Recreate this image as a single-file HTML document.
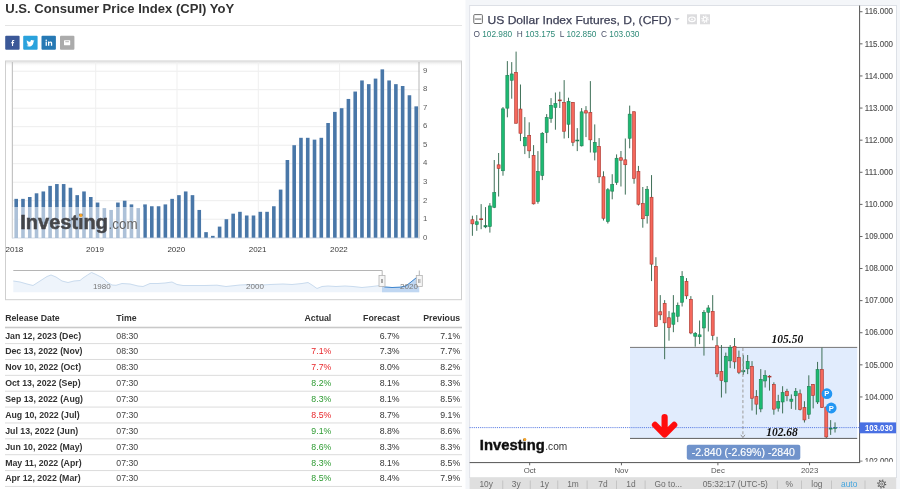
<!DOCTYPE html>
<html><head><meta charset="utf-8"><title>CPI / DXY</title>
<style>
html,body{margin:0;padding:0;background:#fff;}
body{width:900px;height:489px;overflow:hidden;font-family:"Liberation Sans",sans-serif;}
svg{display:block;}
</style></head><body>
<svg width="900" height="489" viewBox="0 0 900 489">
<defs><filter id="soft" filterUnits="userSpaceOnUse" x="-10" y="-10" width="920" height="509"><feGaussianBlur stdDeviation="0.45"/></filter></defs>
<rect width="900" height="489" fill="#fff"/>
<g filter="url(#soft)">
<rect x="-10" y="-10" width="920" height="509" fill="#fff"/>
<g id="left">
<text x="5.3" y="13" font-family="Liberation Sans" font-weight="bold" font-size="12.2" fill="#333" textLength="229" lengthAdjust="spacingAndGlyphs">U.S. Consumer Price Index (CPI) YoY</text>
<rect x="5" y="25" width="457" height="1" fill="#e4e4e4"/>
<rect x="5.2" y="35.8" width="14.4" height="14" rx="1" fill="#3b5998"/>
<rect x="23.2" y="35.8" width="14.4" height="14" rx="1" fill="#2ba2dc"/>
<rect x="41.5" y="35.8" width="14.4" height="14" rx="1" fill="#2779b4"/>
<rect x="60" y="35.8" width="14.4" height="14" rx="1" fill="#ababab"/>
<path transform="translate(12.5 43) scale(.82) translate(-12.5 -43)" d="M13.2 46.6v-3.4h1.1l.2-1.3h-1.3v-.8c0-.4.1-.6.7-.6h.7v-1.2c-.1 0-.5-.1-1-.1-1 0-1.7.6-1.7 1.8v1h-1.1v1.300h1.1v3.4z" fill="#fff"/>
<path d="M34.3 40.6c-.3.1-.6.2-.9.3.3-.2.6-.5.7-.9-.3.2-.7.3-1 .4-.3-.3-.7-.5-1.200-.5-.9 0-1.600.7-1.600 1.600 0 .1 0 .3 0 .4-1.400-.1-2.600-.7-3.400-1.700-.1.2-.2.500-.2.800 0 .6.300 1.100.700 1.400-.3 0-.5-.1-.7-.2 0 .8.600 1.500 1.300 1.600-.1 0-.3.100-.4.100-.1 0-.2 0-.3 0 .2.700.800 1.100 1.500 1.200-.6.400-1.300.700-2 .700-.1 0-.3 0-.4 0 .700.500 1.600.700 2.500.700 3 0 4.600-2.500 4.600-4.600v-.2c.3-.3.600-.6.800-.9z" fill="#fff"/>
<g fill="#fff"><rect x="45.6" y="41.6" width="1.3" height="4.2"/><circle cx="46.25" cy="40.2" r=".8"/><path d="M48 41.6h1.200v.6c.2-.4.700-.7 1.400-.7 1.300 0 1.600.8 1.600 2v2.300h-1.300v-2c0-.5 0-1.100-.7-1.100s-.9.500-.9 1.100v2h-1.300z"/></g>
<rect x="64" y="40.2" width="6.2" height="5" rx=".5" fill="#fff"/><rect x="65.3" y="41.3" width="3.6" height=".9" fill="#ababab"/>
<defs><linearGradient id="sh" x1="0" y1="0" x2="0" y2="1"><stop offset="0" stop-color="#d8d8d8"/><stop offset="1" stop-color="#fff" stop-opacity="0"/></linearGradient></defs>
<rect x="5.5" y="61" width="456" height="238.700" fill="#fff" stroke="#cfcfcf" stroke-width="1"/>
<rect x="6" y="61.500" width="455" height="5" fill="url(#sh)" opacity=".8"/>
<rect x="13" y="218.70" width="407" height="1" fill="#ededed"/>
<rect x="13" y="200.20" width="407" height="1" fill="#ededed"/>
<rect x="13" y="181.70" width="407" height="1" fill="#ededed"/>
<rect x="13" y="163.20" width="407" height="1" fill="#ededed"/>
<rect x="13" y="144.70" width="407" height="1" fill="#ededed"/>
<rect x="13" y="126.20" width="407" height="1" fill="#ededed"/>
<rect x="13" y="107.70" width="407" height="1" fill="#ededed"/>
<rect x="13" y="89.20" width="407" height="1" fill="#ededed"/>
<rect x="13" y="70.70" width="407" height="1" fill="#ededed"/>
<rect x="95.20" y="62" width="1" height="175.70" fill="#efefef"/>
<rect x="176.50" y="62" width="1" height="175.70" fill="#efefef"/>
<rect x="257.80" y="62" width="1" height="175.70" fill="#efefef"/>
<rect x="339.10" y="62" width="1" height="175.70" fill="#efefef"/>
<rect x="11.8" y="62" width="1.2" height="176.20" fill="#c4c4c4"/>
<rect x="418.500" y="62" width="1" height="176.20" fill="#b8b8b8"/>
<rect x="12" y="237.40" width="408" height="1" fill="#c9d3e0"/>
<rect x="14.40" y="198.85" width="3.6" height="38.85" fill="#4a77a8"/>
<rect x="21.18" y="198.85" width="3.6" height="38.85" fill="#4a77a8"/>
<rect x="27.96" y="197.00" width="3.6" height="40.70" fill="#4a77a8"/>
<rect x="34.74" y="193.30" width="3.6" height="44.40" fill="#4a77a8"/>
<rect x="41.52" y="191.45" width="3.6" height="46.25" fill="#4a77a8"/>
<rect x="48.30" y="185.90" width="3.6" height="51.80" fill="#4a77a8"/>
<rect x="55.08" y="184.05" width="3.6" height="53.65" fill="#4a77a8"/>
<rect x="61.86" y="184.05" width="3.6" height="53.65" fill="#4a77a8"/>
<rect x="68.64" y="187.75" width="3.6" height="49.95" fill="#4a77a8"/>
<rect x="75.42" y="195.15" width="3.6" height="42.55" fill="#4a77a8"/>
<rect x="82.20" y="191.45" width="3.6" height="46.25" fill="#4a77a8"/>
<rect x="88.98" y="197.00" width="3.6" height="40.70" fill="#4a77a8"/>
<rect x="95.76" y="202.55" width="3.6" height="35.15" fill="#4a77a8"/>
<rect x="102.54" y="208.10" width="3.6" height="29.60" fill="#4a77a8"/>
<rect x="109.32" y="209.95" width="3.6" height="27.75" fill="#4a77a8"/>
<rect x="116.10" y="202.55" width="3.6" height="35.15" fill="#4a77a8"/>
<rect x="122.88" y="200.70" width="3.6" height="37.00" fill="#4a77a8"/>
<rect x="129.66" y="204.40" width="3.6" height="33.30" fill="#4a77a8"/>
<rect x="136.44" y="208.10" width="3.6" height="29.60" fill="#4a77a8"/>
<rect x="143.22" y="204.40" width="3.6" height="33.30" fill="#4a77a8"/>
<rect x="150.00" y="206.25" width="3.6" height="31.45" fill="#4a77a8"/>
<rect x="156.78" y="206.25" width="3.6" height="31.45" fill="#4a77a8"/>
<rect x="163.56" y="204.40" width="3.6" height="33.30" fill="#4a77a8"/>
<rect x="170.34" y="198.85" width="3.6" height="38.85" fill="#4a77a8"/>
<rect x="177.12" y="195.15" width="3.6" height="42.55" fill="#4a77a8"/>
<rect x="183.90" y="191.45" width="3.6" height="46.25" fill="#4a77a8"/>
<rect x="190.68" y="195.15" width="3.6" height="42.55" fill="#4a77a8"/>
<rect x="197.46" y="209.95" width="3.6" height="27.75" fill="#4a77a8"/>
<rect x="204.24" y="232.15" width="3.6" height="5.55" fill="#4a77a8"/>
<rect x="211.02" y="235.85" width="3.6" height="1.85" fill="#4a77a8"/>
<rect x="217.80" y="226.60" width="3.6" height="11.10" fill="#4a77a8"/>
<rect x="224.58" y="219.20" width="3.6" height="18.50" fill="#4a77a8"/>
<rect x="231.36" y="213.65" width="3.6" height="24.05" fill="#4a77a8"/>
<rect x="238.14" y="211.80" width="3.6" height="25.90" fill="#4a77a8"/>
<rect x="244.92" y="215.50" width="3.6" height="22.20" fill="#4a77a8"/>
<rect x="251.70" y="215.50" width="3.6" height="22.20" fill="#4a77a8"/>
<rect x="258.48" y="211.80" width="3.6" height="25.90" fill="#4a77a8"/>
<rect x="265.26" y="211.80" width="3.6" height="25.90" fill="#4a77a8"/>
<rect x="272.04" y="206.25" width="3.6" height="31.45" fill="#4a77a8"/>
<rect x="278.82" y="189.60" width="3.6" height="48.10" fill="#4a77a8"/>
<rect x="285.60" y="160.00" width="3.6" height="77.70" fill="#4a77a8"/>
<rect x="292.38" y="145.20" width="3.6" height="92.50" fill="#4a77a8"/>
<rect x="299.16" y="137.80" width="3.6" height="99.90" fill="#4a77a8"/>
<rect x="305.94" y="137.80" width="3.6" height="99.90" fill="#4a77a8"/>
<rect x="312.72" y="139.65" width="3.6" height="98.05" fill="#4a77a8"/>
<rect x="319.50" y="137.80" width="3.6" height="99.90" fill="#4a77a8"/>
<rect x="326.28" y="123.00" width="3.6" height="114.70" fill="#4a77a8"/>
<rect x="333.06" y="111.90" width="3.6" height="125.80" fill="#4a77a8"/>
<rect x="339.84" y="108.20" width="3.6" height="129.50" fill="#4a77a8"/>
<rect x="346.62" y="98.95" width="3.6" height="138.75" fill="#4a77a8"/>
<rect x="353.40" y="91.55" width="3.6" height="146.15" fill="#4a77a8"/>
<rect x="360.18" y="80.45" width="3.6" height="157.25" fill="#4a77a8"/>
<rect x="366.96" y="84.15" width="3.6" height="153.55" fill="#4a77a8"/>
<rect x="373.74" y="78.60" width="3.6" height="159.10" fill="#4a77a8"/>
<rect x="380.52" y="69.35" width="3.6" height="168.35" fill="#4a77a8"/>
<rect x="387.30" y="80.45" width="3.6" height="157.25" fill="#4a77a8"/>
<rect x="394.08" y="84.15" width="3.6" height="153.55" fill="#4a77a8"/>
<rect x="400.86" y="86.00" width="3.6" height="151.70" fill="#4a77a8"/>
<rect x="407.64" y="95.25" width="3.6" height="142.45" fill="#4a77a8"/>
<rect x="414.42" y="106.35" width="3.6" height="131.35" fill="#4a77a8"/>
<rect x="12.5" y="207" width="131" height="30.70" fill="#fff" opacity=".55"/>
<text x="20.3" y="229.2" font-family="Liberation Sans" font-weight="bold" font-size="19.6" fill="#3a3a3d" opacity=".92" textLength="87.7" lengthAdjust="spacingAndGlyphs" stroke="#3a3a3d" stroke-width=".5">Investing</text>
<text x="108.6" y="229.2" font-family="Liberation Sans" font-size="14" fill="#666" textLength="29" lengthAdjust="spacingAndGlyphs">.com</text>
<circle cx="80.8" cy="215.4" r="1.6" fill="#f7a428"/>
<text x="422.9" y="239.80" font-family="Liberation Sans" font-size="7.8" fill="#5a5a5a">0</text>
<text x="422.9" y="221.22" font-family="Liberation Sans" font-size="7.8" fill="#5a5a5a">1</text>
<text x="422.9" y="202.64" font-family="Liberation Sans" font-size="7.8" fill="#5a5a5a">2</text>
<text x="422.9" y="184.06" font-family="Liberation Sans" font-size="7.8" fill="#5a5a5a">3</text>
<text x="422.9" y="165.48" font-family="Liberation Sans" font-size="7.8" fill="#5a5a5a">4</text>
<text x="422.9" y="146.90" font-family="Liberation Sans" font-size="7.8" fill="#5a5a5a">5</text>
<text x="422.9" y="128.32" font-family="Liberation Sans" font-size="7.8" fill="#5a5a5a">6</text>
<text x="422.9" y="109.74" font-family="Liberation Sans" font-size="7.8" fill="#5a5a5a">7</text>
<text x="422.9" y="91.16" font-family="Liberation Sans" font-size="7.8" fill="#5a5a5a">8</text>
<text x="422.9" y="72.58" font-family="Liberation Sans" font-size="7.8" fill="#5a5a5a">9</text>
<text x="5.5" y="251.800" font-family="Liberation Sans" font-size="8" fill="#383838">2018</text>
<text x="95.00" y="251.800" text-anchor="middle" font-family="Liberation Sans" font-size="8" fill="#383838">2019</text>
<text x="176.30" y="251.800" text-anchor="middle" font-family="Liberation Sans" font-size="8" fill="#383838">2020</text>
<text x="257.60" y="251.800" text-anchor="middle" font-family="Liberation Sans" font-size="8" fill="#383838">2021</text>
<text x="338.90" y="251.800" text-anchor="middle" font-family="Liberation Sans" font-size="8" fill="#383838">2022</text>
<path d="M13.3 281 L20 282 L27 284 L33 285.5 L40 281 L47 276.5 L51 275 L56 277 L62 281 L68 282.5 L74 281 L80 280.5 L83 278 L87.5 275 L91.5 272.5 L95 274 L99 276 L103 278 L107 282 L112 285 L116 285.3 L122 283.5 L130 284 L138 286 L143 286.5 L150 283.5 L158 283.5 L165 283 L172 282 L177 284.5 L183 285.5 L192 285.5 L205 285.5 L217 285.2 L226 286.5 L240 285 L250 284.5 L262 285 L270 284.5 L283 284 L292 284.5 L302 283.5 L308 282.5 L312 285 L317 288.5 L322 286.5 L328 286 L336 286.5 L345 286 L353 286.5 L362 287.5 L372 286.5 L380 285.5 L385 287 L392 287.5 L400 287.2 L406 286 L411 282 L416 278 L419 276 L419 292.300 L13.3 292.300 Z" fill="#eef4fb"/>
<path d="M13.3 281 L20 282 L27 284 L33 285.5 L40 281 L47 276.5 L51 275 L56 277 L62 281 L68 282.5 L74 281 L80 280.5 L83 278 L87.5 275 L91.5 272.5 L95 274 L99 276 L103 278 L107 282 L112 285 L116 285.3 L122 283.5 L130 284 L138 286 L143 286.5 L150 283.5 L158 283.5 L165 283 L172 282 L177 284.5 L183 285.5 L192 285.5 L205 285.5 L217 285.2 L226 286.5 L240 285 L250 284.5 L262 285 L270 284.5 L283 284 L292 284.5 L302 283.5 L308 282.5 L312 285 L317 288.5 L322 286.5 L328 286 L336 286.5 L345 286 L353 286.5 L362 287.5 L372 286.5 L380 285.5 L385 287 L392 287.5 L400 287.2 L406 286 L411 282 L416 278 L419 276" fill="none" stroke="#c9dbee" stroke-width="1"/>
<path d="M382 292.300 L382 286 L385 287 L392 287.5 L400 287.2 L406 286 L411 282 L416 278 L419 276 L419.300 292.300 Z" fill="#c0d7f2"/>
<path d="M382 286 L385 287 L392 287.5 L400 287.2 L406 286 L411 282 L416 278 L419 276" fill="none" stroke="#3f86cf" stroke-width="1"/>
<path d="M13.3 270.500 H382.200 V286 " fill="none" stroke="#b5b5b5" stroke-width="1"/>
<path d="M419.300 270.500 V286" fill="none" stroke="#b5b5b5" stroke-width="1"/>
<rect x="379" y="275.500" width="6" height="11" fill="#f6f6f6" stroke="#b4b4b4" stroke-width=".8"/>
<rect x="381.1" y="279" width=".7" height="4" fill="#888"/><rect x="382.3" y="279" width=".7" height="4" fill="#888"/>
<rect x="416.3" y="275.500" width="6" height="11" fill="#f6f6f6" stroke="#b4b4b4" stroke-width=".8"/>
<rect x="418.40000000000003" y="279" width=".7" height="4" fill="#888"/><rect x="419.6" y="279" width=".7" height="4" fill="#888"/>
<text x="101.8" y="289.300" text-anchor="middle" font-family="Liberation Sans" font-size="8" fill="#777">1980</text>
<text x="255" y="289.300" text-anchor="middle" font-family="Liberation Sans" font-size="8" fill="#777">2000</text>
<text x="409" y="289.300" text-anchor="middle" font-family="Liberation Sans" font-size="8" fill="#777">2020</text>
<g font-family="Liberation Sans" font-size="8.75" fill="#333">
<text x="5.2" y="320.5" font-weight="bold">Release Date</text>
<text x="116.300" y="320.5" font-weight="bold">Time</text>
<text x="331.300" y="320.5" font-weight="bold" text-anchor="end">Actual</text>
<text x="399.600" y="320.5" font-weight="bold" text-anchor="end">Forecast</text>
<text x="460.200" y="320.5" font-weight="bold" text-anchor="end">Previous</text>
<rect x="5" y="326.700" width="457" height="1.600" fill="#c9c9c9"/>
<text x="5.2" y="338.60" font-weight="bold">Jan 12, 2023 (Dec)</text>
<text x="116.300" y="338.60" fill="#444">08:30</text>
<text x="399.600" y="338.60" text-anchor="end">6.7%</text>
<text x="460.200" y="338.60" text-anchor="end">7.1%</text>
<rect x="5" y="343.10" width="457" height="1" fill="#dcdcdc"/>
<text x="5.2" y="354.47" font-weight="bold">Dec 13, 2022 (Nov)</text>
<text x="116.300" y="354.47" fill="#444">08:30</text>
<text x="331.300" y="354.47" text-anchor="end" fill="#e8262a">7.1%</text>
<text x="399.600" y="354.47" text-anchor="end">7.3%</text>
<text x="460.200" y="354.47" text-anchor="end">7.7%</text>
<rect x="5" y="358.97" width="457" height="1" fill="#dcdcdc"/>
<text x="5.2" y="370.34" font-weight="bold">Nov 10, 2022 (Oct)</text>
<text x="116.300" y="370.34" fill="#444">08:30</text>
<text x="331.300" y="370.34" text-anchor="end" fill="#e8262a">7.7%</text>
<text x="399.600" y="370.34" text-anchor="end">8.0%</text>
<text x="460.200" y="370.34" text-anchor="end">8.2%</text>
<rect x="5" y="374.84" width="457" height="1" fill="#dcdcdc"/>
<text x="5.2" y="386.21" font-weight="bold">Oct 13, 2022 (Sep)</text>
<text x="116.300" y="386.21" fill="#444">07:30</text>
<text x="331.300" y="386.21" text-anchor="end" fill="#2e9b32">8.2%</text>
<text x="399.600" y="386.21" text-anchor="end">8.1%</text>
<text x="460.200" y="386.21" text-anchor="end">8.3%</text>
<rect x="5" y="390.71" width="457" height="1" fill="#dcdcdc"/>
<text x="5.2" y="402.08" font-weight="bold">Sep 13, 2022 (Aug)</text>
<text x="116.300" y="402.08" fill="#444">07:30</text>
<text x="331.300" y="402.08" text-anchor="end" fill="#2e9b32">8.3%</text>
<text x="399.600" y="402.08" text-anchor="end">8.1%</text>
<text x="460.200" y="402.08" text-anchor="end">8.5%</text>
<rect x="5" y="406.58" width="457" height="1" fill="#dcdcdc"/>
<text x="5.2" y="417.95" font-weight="bold">Aug 10, 2022 (Jul)</text>
<text x="116.300" y="417.95" fill="#444">07:30</text>
<text x="331.300" y="417.95" text-anchor="end" fill="#e8262a">8.5%</text>
<text x="399.600" y="417.95" text-anchor="end">8.7%</text>
<text x="460.200" y="417.95" text-anchor="end">9.1%</text>
<rect x="5" y="422.45" width="457" height="1" fill="#dcdcdc"/>
<text x="5.2" y="433.82" font-weight="bold">Jul 13, 2022 (Jun)</text>
<text x="116.300" y="433.82" fill="#444">07:30</text>
<text x="331.300" y="433.82" text-anchor="end" fill="#2e9b32">9.1%</text>
<text x="399.600" y="433.82" text-anchor="end">8.8%</text>
<text x="460.200" y="433.82" text-anchor="end">8.6%</text>
<rect x="5" y="438.32" width="457" height="1" fill="#dcdcdc"/>
<text x="5.2" y="449.69" font-weight="bold">Jun 10, 2022 (May)</text>
<text x="116.300" y="449.69" fill="#444">07:30</text>
<text x="331.300" y="449.69" text-anchor="end" fill="#2e9b32">8.6%</text>
<text x="399.600" y="449.69" text-anchor="end">8.3%</text>
<text x="460.200" y="449.69" text-anchor="end">8.3%</text>
<rect x="5" y="454.19" width="457" height="1" fill="#dcdcdc"/>
<text x="5.2" y="465.56" font-weight="bold">May 11, 2022 (Apr)</text>
<text x="116.300" y="465.56" fill="#444">07:30</text>
<text x="331.300" y="465.56" text-anchor="end" fill="#2e9b32">8.3%</text>
<text x="399.600" y="465.56" text-anchor="end">8.1%</text>
<text x="460.200" y="465.56" text-anchor="end">8.5%</text>
<rect x="5" y="470.06" width="457" height="1" fill="#dcdcdc"/>
<text x="5.2" y="481.43" font-weight="bold">Apr 12, 2022 (Mar)</text>
<text x="116.300" y="481.43" fill="#444">07:30</text>
<text x="331.300" y="481.43" text-anchor="end" fill="#2e9b32">8.5%</text>
<text x="399.600" y="481.43" text-anchor="end">8.4%</text>
<text x="460.200" y="481.43" text-anchor="end">7.9%</text>
<rect x="5" y="485.93" width="457" height="1" fill="#dcdcdc"/>
</g>
</g>
<g id="right">
<rect x="465.500" y="0" width="434.500" height="489" fill="#f4f6f9"/>
<rect x="469.600" y="5.500" width="426.600" height="472" fill="#fff"/>
<rect x="469.100" y="5" width="427.500" height="1" fill="#dde0e6"/>
<rect x="469.100" y="5" width="1" height="473" fill="#e0e3e9"/>
<rect x="896" y="5" width="1" height="473" fill="#dde1e7"/>
<rect x="630" y="347.400" width="227.200" height="91" fill="#e1ecfd"/>
<rect x="630" y="346.900" width="227.200" height="1" fill="#777"/>
<rect x="630" y="437.900" width="227.200" height="1.100" fill="#6e6e6e"/>
<rect x="471.90" y="215.70" width="1" height="20.10" fill="#3f7058"/>
<rect x="470.90" y="219.75" width="3.0" height="4.10" fill="#f5675b" stroke="#a8342e" stroke-width=".6"/>
<rect x="476.27" y="215.10" width="1" height="15.70" fill="#3f7058"/>
<rect x="475.27" y="221.75" width="3.0" height="2.70" fill="#1fba72" stroke="#1c7f52" stroke-width=".6"/>
<rect x="480.64" y="204.10" width="1" height="25.10" fill="#3f7058"/>
<rect x="479.24" y="218.45" width="3.8" height="1.50" fill="#a8342e"/>
<rect x="485.01" y="207.10" width="1" height="21.10" fill="#3f7058"/>
<rect x="483.61" y="225.20" width="3.8" height="2.00" fill="#1c7f52"/>
<rect x="489.38" y="203.10" width="1" height="29.50" fill="#3f7058"/>
<rect x="488.38" y="205.95" width="3.0" height="20.60" fill="#1fba72" stroke="#1c7f52" stroke-width=".6"/>
<rect x="493.75" y="160.00" width="1" height="48.10" fill="#3f7058"/>
<rect x="492.75" y="192.65" width="3.0" height="14.60" fill="#1fba72" stroke="#1c7f52" stroke-width=".6"/>
<rect x="498.11" y="153.00" width="1" height="43.50" fill="#3f7058"/>
<rect x="497.11" y="164.85" width="3.0" height="3.50" fill="#f5675b" stroke="#a8342e" stroke-width=".6"/>
<rect x="502.48" y="107.00" width="1" height="68.70" fill="#3f7058"/>
<rect x="501.48" y="108.85" width="3.0" height="61.90" fill="#1fba72" stroke="#1c7f52" stroke-width=".6"/>
<rect x="506.85" y="61.10" width="1" height="56.20" fill="#3f7058"/>
<rect x="505.85" y="75.35" width="3.0" height="32.80" fill="#1fba72" stroke="#1c7f52" stroke-width=".6"/>
<rect x="511.22" y="62.10" width="1" height="36.60" fill="#3f7058"/>
<rect x="510.22" y="73.95" width="3.0" height="6.30" fill="#1fba72" stroke="#1c7f52" stroke-width=".6"/>
<rect x="515.59" y="51.60" width="1" height="71.90" fill="#3f7058"/>
<rect x="514.59" y="72.35" width="3.0" height="50.90" fill="#f5675b" stroke="#a8342e" stroke-width=".6"/>
<rect x="519.96" y="84.50" width="1" height="56.60" fill="#3f7058"/>
<rect x="518.96" y="109.05" width="3.0" height="24.20" fill="#f5675b" stroke="#a8342e" stroke-width=".6"/>
<rect x="524.33" y="117.10" width="1" height="37.00" fill="#3f7058"/>
<rect x="523.33" y="137.35" width="3.0" height="8.50" fill="#1fba72" stroke="#1c7f52" stroke-width=".6"/>
<rect x="528.70" y="122.30" width="1" height="35.80" fill="#3f7058"/>
<rect x="527.70" y="135.35" width="3.0" height="15.50" fill="#f5675b" stroke="#a8342e" stroke-width=".6"/>
<rect x="533.07" y="145.10" width="1" height="59.40" fill="#3f7058"/>
<rect x="532.07" y="155.45" width="3.0" height="48.40" fill="#f5675b" stroke="#a8342e" stroke-width=".6"/>
<rect x="537.43" y="151.10" width="1" height="52.60" fill="#3f7058"/>
<rect x="536.43" y="171.45" width="3.0" height="30.00" fill="#1fba72" stroke="#1c7f52" stroke-width=".6"/>
<rect x="541.80" y="132.10" width="1" height="48.00" fill="#3f7058"/>
<rect x="540.80" y="133.35" width="3.0" height="42.10" fill="#1fba72" stroke="#1c7f52" stroke-width=".6"/>
<rect x="546.17" y="114.10" width="1" height="29.00" fill="#3f7058"/>
<rect x="545.17" y="117.55" width="3.0" height="14.90" fill="#1fba72" stroke="#1c7f52" stroke-width=".6"/>
<rect x="550.54" y="98.10" width="1" height="24.70" fill="#3f7058"/>
<rect x="549.54" y="105.35" width="3.0" height="13.30" fill="#1fba72" stroke="#1c7f52" stroke-width=".6"/>
<rect x="554.91" y="92.50" width="1" height="37.20" fill="#3f7058"/>
<rect x="553.91" y="103.55" width="3.0" height="3.80" fill="#1fba72" stroke="#1c7f52" stroke-width=".6"/>
<rect x="559.28" y="91.70" width="1" height="16.30" fill="#3f7058"/>
<rect x="557.88" y="99.60" width="3.8" height="1.50" fill="#a8342e"/>
<rect x="563.65" y="80.10" width="1" height="58.40" fill="#3f7058"/>
<rect x="562.65" y="102.35" width="3.0" height="28.90" fill="#f5675b" stroke="#a8342e" stroke-width=".6"/>
<rect x="568.02" y="97.70" width="1" height="40.40" fill="#3f7058"/>
<rect x="567.02" y="101.35" width="3.0" height="22.90" fill="#1fba72" stroke="#1c7f52" stroke-width=".6"/>
<rect x="572.39" y="102.00" width="1" height="44.10" fill="#3f7058"/>
<rect x="571.39" y="102.35" width="3.0" height="39.90" fill="#f5675b" stroke="#a8342e" stroke-width=".6"/>
<rect x="576.76" y="128.10" width="1" height="23.00" fill="#3f7058"/>
<rect x="575.36" y="139.75" width="3.8" height="1.50" fill="#1c7f52"/>
<rect x="581.12" y="108.10" width="1" height="38.40" fill="#3f7058"/>
<rect x="580.12" y="111.85" width="3.0" height="34.00" fill="#1fba72" stroke="#1c7f52" stroke-width=".6"/>
<rect x="585.49" y="106.10" width="1" height="31.00" fill="#3f7058"/>
<rect x="584.49" y="110.75" width="3.0" height="2.30" fill="#f5675b" stroke="#a8342e" stroke-width=".6"/>
<rect x="589.86" y="81.10" width="1" height="71.40" fill="#3f7058"/>
<rect x="588.86" y="112.35" width="3.0" height="27.50" fill="#f5675b" stroke="#a8342e" stroke-width=".6"/>
<rect x="594.23" y="124.40" width="1" height="36.00" fill="#3f7058"/>
<rect x="593.23" y="142.35" width="3.0" height="9.80" fill="#1fba72" stroke="#1c7f52" stroke-width=".6"/>
<rect x="598.60" y="138.10" width="1" height="45.00" fill="#3f7058"/>
<rect x="597.60" y="146.35" width="3.0" height="30.50" fill="#f5675b" stroke="#a8342e" stroke-width=".6"/>
<rect x="602.97" y="171.30" width="1" height="49.20" fill="#3f7058"/>
<rect x="601.97" y="176.75" width="3.0" height="41.50" fill="#f5675b" stroke="#a8342e" stroke-width=".6"/>
<rect x="607.34" y="188.10" width="1" height="35.40" fill="#3f7058"/>
<rect x="606.34" y="189.75" width="3.0" height="31.70" fill="#1fba72" stroke="#1c7f52" stroke-width=".6"/>
<rect x="611.71" y="174.20" width="1" height="25.10" fill="#3f7058"/>
<rect x="610.71" y="184.55" width="3.0" height="6.60" fill="#1fba72" stroke="#1c7f52" stroke-width=".6"/>
<rect x="616.08" y="154.40" width="1" height="30.50" fill="#3f7058"/>
<rect x="615.08" y="158.25" width="3.0" height="24.10" fill="#1fba72" stroke="#1c7f52" stroke-width=".6"/>
<rect x="620.45" y="151.00" width="1" height="35.50" fill="#3f7058"/>
<rect x="619.45" y="157.75" width="3.0" height="2.50" fill="#f5675b" stroke="#a8342e" stroke-width=".6"/>
<rect x="624.81" y="138.50" width="1" height="56.10" fill="#3f7058"/>
<rect x="623.81" y="159.85" width="3.0" height="4.90" fill="#f5675b" stroke="#a8342e" stroke-width=".6"/>
<rect x="629.18" y="105.60" width="1" height="42.70" fill="#3f7058"/>
<rect x="628.18" y="114.15" width="3.0" height="24.10" fill="#1fba72" stroke="#1c7f52" stroke-width=".6"/>
<rect x="633.55" y="111.40" width="1" height="72.30" fill="#3f7058"/>
<rect x="632.55" y="111.75" width="3.0" height="66.60" fill="#f5675b" stroke="#a8342e" stroke-width=".6"/>
<rect x="637.92" y="165.90" width="1" height="39.60" fill="#3f7058"/>
<rect x="636.92" y="171.45" width="3.0" height="32.80" fill="#f5675b" stroke="#a8342e" stroke-width=".6"/>
<rect x="642.29" y="187.00" width="1" height="40.70" fill="#3f7058"/>
<rect x="641.29" y="203.55" width="3.0" height="15.20" fill="#f5675b" stroke="#a8342e" stroke-width=".6"/>
<rect x="646.66" y="186.00" width="1" height="37.60" fill="#3f7058"/>
<rect x="645.66" y="189.25" width="3.0" height="26.50" fill="#1fba72" stroke="#1c7f52" stroke-width=".6"/>
<rect x="651.03" y="175.10" width="1" height="106.00" fill="#3f7058"/>
<rect x="650.03" y="197.25" width="3.0" height="66.90" fill="#f5675b" stroke="#a8342e" stroke-width=".6"/>
<rect x="655.40" y="257.20" width="1" height="69.80" fill="#3f7058"/>
<rect x="654.40" y="266.35" width="3.0" height="60.00" fill="#f5675b" stroke="#a8342e" stroke-width=".6"/>
<rect x="659.77" y="295.10" width="1" height="25.00" fill="#3f7058"/>
<rect x="658.77" y="311.75" width="3.0" height="3.10" fill="#f5675b" stroke="#a8342e" stroke-width=".6"/>
<rect x="664.14" y="300.10" width="1" height="59.10" fill="#3f7058"/>
<rect x="663.14" y="303.35" width="3.0" height="19.50" fill="#f5675b" stroke="#a8342e" stroke-width=".6"/>
<rect x="668.50" y="311.10" width="1" height="29.60" fill="#3f7058"/>
<rect x="667.50" y="317.75" width="3.0" height="9.80" fill="#f5675b" stroke="#a8342e" stroke-width=".6"/>
<rect x="672.87" y="295.10" width="1" height="37.10" fill="#3f7058"/>
<rect x="671.87" y="312.95" width="3.0" height="11.30" fill="#1fba72" stroke="#1c7f52" stroke-width=".6"/>
<rect x="677.24" y="302.50" width="1" height="19.60" fill="#3f7058"/>
<rect x="676.24" y="305.35" width="3.0" height="10.90" fill="#1fba72" stroke="#1c7f52" stroke-width=".6"/>
<rect x="681.61" y="271.10" width="1" height="35.40" fill="#3f7058"/>
<rect x="680.61" y="276.35" width="3.0" height="25.90" fill="#1fba72" stroke="#1c7f52" stroke-width=".6"/>
<rect x="685.98" y="278.10" width="1" height="21.00" fill="#3f7058"/>
<rect x="684.98" y="281.35" width="3.0" height="14.50" fill="#f5675b" stroke="#a8342e" stroke-width=".6"/>
<rect x="690.35" y="296.10" width="1" height="38.10" fill="#3f7058"/>
<rect x="689.35" y="299.35" width="3.0" height="33.60" fill="#f5675b" stroke="#a8342e" stroke-width=".6"/>
<rect x="694.72" y="332.00" width="1" height="14.70" fill="#3f7058"/>
<rect x="693.72" y="333.45" width="3.0" height="2.80" fill="#1fba72" stroke="#1c7f52" stroke-width=".6"/>
<rect x="699.09" y="320.50" width="1" height="23.60" fill="#3f7058"/>
<rect x="698.09" y="334.85" width="3.0" height="1.90" fill="#1fba72" stroke="#1c7f52" stroke-width=".6"/>
<rect x="703.46" y="310.10" width="1" height="45.50" fill="#3f7058"/>
<rect x="702.46" y="312.35" width="3.0" height="15.60" fill="#1fba72" stroke="#1c7f52" stroke-width=".6"/>
<rect x="707.83" y="305.10" width="1" height="26.40" fill="#3f7058"/>
<rect x="706.83" y="307.95" width="3.0" height="4.30" fill="#1fba72" stroke="#1c7f52" stroke-width=".6"/>
<rect x="712.19" y="295.10" width="1" height="45.20" fill="#3f7058"/>
<rect x="711.19" y="311.35" width="3.0" height="24.00" fill="#f5675b" stroke="#a8342e" stroke-width=".6"/>
<rect x="716.56" y="336.80" width="1" height="40.30" fill="#3f7058"/>
<rect x="715.56" y="345.75" width="3.0" height="28.10" fill="#f5675b" stroke="#a8342e" stroke-width=".6"/>
<rect x="720.93" y="345.00" width="1" height="52.50" fill="#3f7058"/>
<rect x="719.93" y="371.35" width="3.0" height="9.10" fill="#f5675b" stroke="#a8342e" stroke-width=".6"/>
<rect x="725.30" y="352.60" width="1" height="40.90" fill="#3f7058"/>
<rect x="724.30" y="356.25" width="3.0" height="25.60" fill="#1fba72" stroke="#1c7f52" stroke-width=".6"/>
<rect x="729.67" y="345.00" width="1" height="23.10" fill="#3f7058"/>
<rect x="728.67" y="347.25" width="3.0" height="13.60" fill="#1fba72" stroke="#1c7f52" stroke-width=".6"/>
<rect x="734.04" y="338.00" width="1" height="30.70" fill="#3f7058"/>
<rect x="733.04" y="346.35" width="3.0" height="15.50" fill="#f5675b" stroke="#a8342e" stroke-width=".6"/>
<rect x="738.41" y="350.60" width="1" height="23.50" fill="#3f7058"/>
<rect x="737.41" y="357.65" width="3.0" height="14.60" fill="#f5675b" stroke="#a8342e" stroke-width=".6"/>
<rect x="742.78" y="355.00" width="1" height="20.00" fill="#3f7058"/>
<rect x="741.38" y="370.10" width="3.8" height="2.00" fill="#1c7f52"/>
<rect x="747.15" y="355.00" width="1" height="19.10" fill="#3f7058"/>
<rect x="746.15" y="361.35" width="3.0" height="7.50" fill="#1fba72" stroke="#1c7f52" stroke-width=".6"/>
<rect x="751.52" y="361.10" width="1" height="49.40" fill="#3f7058"/>
<rect x="750.52" y="366.35" width="3.0" height="31.90" fill="#f5675b" stroke="#a8342e" stroke-width=".6"/>
<rect x="755.88" y="390.10" width="1" height="24.50" fill="#3f7058"/>
<rect x="754.88" y="396.65" width="3.0" height="7.50" fill="#f5675b" stroke="#a8342e" stroke-width=".6"/>
<rect x="760.25" y="369.10" width="1" height="43.10" fill="#3f7058"/>
<rect x="759.25" y="379.35" width="3.0" height="29.60" fill="#1fba72" stroke="#1c7f52" stroke-width=".6"/>
<rect x="764.62" y="370.20" width="1" height="17.30" fill="#3f7058"/>
<rect x="763.62" y="375.55" width="3.0" height="5.40" fill="#1fba72" stroke="#1c7f52" stroke-width=".6"/>
<rect x="768.99" y="375.10" width="1" height="15.50" fill="#3f7058"/>
<rect x="767.59" y="375.90" width="3.8" height="1.50" fill="#a8342e"/>
<rect x="773.36" y="382.30" width="1" height="32.40" fill="#3f7058"/>
<rect x="772.36" y="384.45" width="3.0" height="24.70" fill="#f5675b" stroke="#a8342e" stroke-width=".6"/>
<rect x="777.73" y="394.80" width="1" height="16.80" fill="#3f7058"/>
<rect x="776.73" y="401.45" width="3.0" height="6.70" fill="#1fba72" stroke="#1c7f52" stroke-width=".6"/>
<rect x="782.10" y="386.20" width="1" height="27.20" fill="#3f7058"/>
<rect x="781.10" y="392.65" width="3.0" height="9.30" fill="#1fba72" stroke="#1c7f52" stroke-width=".6"/>
<rect x="786.47" y="388.80" width="1" height="12.40" fill="#3f7058"/>
<rect x="785.47" y="391.25" width="3.0" height="4.50" fill="#f5675b" stroke="#a8342e" stroke-width=".6"/>
<rect x="790.84" y="394.40" width="1" height="14.50" fill="#3f7058"/>
<rect x="789.84" y="399.15" width="3.0" height="2.10" fill="#1fba72" stroke="#1c7f52" stroke-width=".6"/>
<rect x="795.21" y="388.00" width="1" height="21.80" fill="#3f7058"/>
<rect x="794.21" y="391.25" width="3.0" height="4.50" fill="#1fba72" stroke="#1c7f52" stroke-width=".6"/>
<rect x="799.57" y="389.50" width="1" height="21.00" fill="#3f7058"/>
<rect x="798.57" y="393.75" width="3.0" height="15.80" fill="#f5675b" stroke="#a8342e" stroke-width=".6"/>
<rect x="803.94" y="401.20" width="1" height="21.30" fill="#3f7058"/>
<rect x="802.94" y="407.55" width="3.0" height="12.40" fill="#f5675b" stroke="#a8342e" stroke-width=".6"/>
<rect x="808.31" y="375.30" width="1" height="43.70" fill="#3f7058"/>
<rect x="807.31" y="386.45" width="3.0" height="27.80" fill="#1fba72" stroke="#1c7f52" stroke-width=".6"/>
<rect x="812.68" y="384.00" width="1" height="24.40" fill="#3f7058"/>
<rect x="811.68" y="384.45" width="3.0" height="11.00" fill="#f5675b" stroke="#a8342e" stroke-width=".6"/>
<rect x="817.05" y="361.90" width="1" height="42.10" fill="#3f7058"/>
<rect x="816.05" y="369.65" width="3.0" height="32.30" fill="#1fba72" stroke="#1c7f52" stroke-width=".6"/>
<rect x="821.42" y="347.60" width="1" height="60.40" fill="#3f7058"/>
<rect x="820.42" y="369.65" width="3.0" height="37.80" fill="#f5675b" stroke="#a8342e" stroke-width=".6"/>
<rect x="825.79" y="406.00" width="1" height="32.00" fill="#3f7058"/>
<rect x="824.79" y="407.15" width="3.0" height="29.80" fill="#f5675b" stroke="#a8342e" stroke-width=".6"/>
<rect x="830.16" y="420.10" width="1" height="14.80" fill="#3f7058"/>
<rect x="828.76" y="427.95" width="3.8" height="1.50" fill="#1c7f52"/>
<rect x="834.53" y="422.40" width="1" height="10.10" fill="#3f7058"/>
<rect x="833.13" y="427.10" width="3.8" height="1.60" fill="#1c7f52"/>
<path d="M742.900 348 V437" stroke="#a6a6a6" stroke-width="1.150" stroke-dasharray="3 2.200" fill="none"/>
<path d="M740.800 434.800 L742.900 437.600 L745 434.800" stroke="#8a8a8a" stroke-width=".9" fill="none"/>
<path d="M469.600 427.600 H859" stroke="#4a6ee0" stroke-width=".9" stroke-dasharray="1.100 1" fill="none"/>
<circle cx="826.9" cy="393.7" r="5.4" fill="#2196f3"/>
<text x="826.9" y="396.4" text-anchor="middle" font-family="Liberation Sans" font-weight="bold" font-size="7.6" fill="#fff">P</text>
<circle cx="831.2" cy="408.0" r="5.4" fill="#2196f3"/>
<text x="831.2" y="410.7" text-anchor="middle" font-family="Liberation Sans" font-weight="bold" font-size="7.6" fill="#fff">P</text>
<path d="M664.600 417 V434.300 M655 424.900 L664.600 434.500 L674.200 424.900" stroke="#ff1010" stroke-width="6.2" stroke-linecap="round" stroke-linejoin="round" fill="none"/>
<text x="771.500" y="343.200" font-family="Liberation Serif" font-style="italic" font-weight="bold" font-size="11.5" fill="#111">105.50</text>
<text x="766.200" y="435.500" font-family="Liberation Serif" font-style="italic" font-weight="bold" font-size="11.5" fill="#111">102.68</text>
<rect x="686.800" y="444.700" width="113.500" height="15.100" rx="2" fill="#6f93cb"/>
<text x="691.700" y="455.600" font-family="Liberation Sans" font-size="10.3" fill="#fff" stroke="#fff" stroke-width=".15" textLength="103.200" lengthAdjust="spacingAndGlyphs">-2.840 (-2.69%) -2840</text>
<text x="479.800" y="450.300" font-family="Liberation Sans" font-weight="bold" font-size="14.2" fill="#111" textLength="65" lengthAdjust="spacingAndGlyphs" stroke="#111" stroke-width=".4">Investing</text>
<text x="545.300" y="450.300" font-family="Liberation Sans" font-size="10.6" fill="#333" textLength="22" lengthAdjust="spacingAndGlyphs">.com</text>
<circle cx="524.800" cy="439.500" r="1.500" fill="#f7a428"/>
<rect x="473.800" y="14.600" width="8.600" height="8.900" rx=".9" fill="#fff" stroke="#5c5c5c" stroke-width=".9"/>
<rect x="474.900" y="18.600" width="6.400" height=".9" fill="#555"/>
<text x="487.500" y="23.500" font-family="Liberation Sans" font-size="11.8" fill="#3c3f55" stroke="#3c3f55" stroke-width=".25" textLength="184" lengthAdjust="spacingAndGlyphs">US Dollar Index Futures, D, (CFD)</text>
<path d="M673.900 18 h6 l-3 2.600z" fill="#bdbfc5"/>
<rect x="687" y="14.300" width="10" height="10" fill="#dcdcde"/>
<rect x="700" y="14.300" width="10" height="10" fill="#dcdcde"/>
<ellipse cx="692" cy="19.300" rx="3.200" ry="2.300" fill="none" stroke="#fff" stroke-width="1.100"/><circle cx="692" cy="19.300" r=".9" fill="#fff"/>
<circle cx="705" cy="19.300" r="1.900" fill="none" stroke="#fff" stroke-width="1.200"/><circle cx="705" cy="19.300" r="3.100" fill="none" stroke="#fff" stroke-width="1.300" stroke-dasharray="1.100 1.330"/>
<g font-family="Liberation Sans" font-size="8.3">
<text x="473.400" y="36.900" fill="#4a5068" textLength="166" lengthAdjust="spacingAndGlyphs" xml:space="preserve">O <tspan fill="#2f8a78">102.980</tspan>  H <tspan fill="#2f8a78">103.175</tspan>  L <tspan fill="#2f8a78">102.850</tspan>  C <tspan fill="#2f8a78">103.030</tspan></text>
</g>
<rect x="859" y="5.500" width="1.100" height="457.500" fill="#646464"/>
<rect x="469.600" y="462" width="390.500" height="1.100" fill="#646464"/>
<g font-family="Liberation Sans" font-size="8.2" fill="#505050" stroke="#505050" stroke-width=".12">
<rect x="860" y="428.60" width="2.500" height=".9" fill="#555" stroke="none"/>
<text x="864.800" y="431.75" textLength="28.200" lengthAdjust="spacingAndGlyphs">103.000</text>
<rect x="860" y="396.50" width="2.500" height=".9" fill="#555" stroke="none"/>
<text x="864.800" y="399.65" textLength="28.200" lengthAdjust="spacingAndGlyphs">104.000</text>
<rect x="860" y="364.40" width="2.500" height=".9" fill="#555" stroke="none"/>
<text x="864.800" y="367.55" textLength="28.200" lengthAdjust="spacingAndGlyphs">105.000</text>
<rect x="860" y="332.30" width="2.500" height=".9" fill="#555" stroke="none"/>
<text x="864.800" y="335.45" textLength="28.200" lengthAdjust="spacingAndGlyphs">106.000</text>
<rect x="860" y="300.20" width="2.500" height=".9" fill="#555" stroke="none"/>
<text x="864.800" y="303.35" textLength="28.200" lengthAdjust="spacingAndGlyphs">107.000</text>
<rect x="860" y="268.10" width="2.500" height=".9" fill="#555" stroke="none"/>
<text x="864.800" y="271.25" textLength="28.200" lengthAdjust="spacingAndGlyphs">108.000</text>
<rect x="860" y="236.00" width="2.500" height=".9" fill="#555" stroke="none"/>
<text x="864.800" y="239.15" textLength="28.200" lengthAdjust="spacingAndGlyphs">109.000</text>
<rect x="860" y="203.90" width="2.500" height=".9" fill="#555" stroke="none"/>
<text x="864.800" y="207.05" textLength="28.200" lengthAdjust="spacingAndGlyphs">110.000</text>
<rect x="860" y="171.80" width="2.500" height=".9" fill="#555" stroke="none"/>
<text x="864.800" y="174.95" textLength="28.200" lengthAdjust="spacingAndGlyphs">111.000</text>
<rect x="860" y="139.70" width="2.500" height=".9" fill="#555" stroke="none"/>
<text x="864.800" y="142.85" textLength="28.200" lengthAdjust="spacingAndGlyphs">112.000</text>
<rect x="860" y="107.60" width="2.500" height=".9" fill="#555" stroke="none"/>
<text x="864.800" y="110.75" textLength="28.200" lengthAdjust="spacingAndGlyphs">113.000</text>
<rect x="860" y="75.50" width="2.500" height=".9" fill="#555" stroke="none"/>
<text x="864.800" y="78.65" textLength="28.200" lengthAdjust="spacingAndGlyphs">114.000</text>
<rect x="860" y="43.40" width="2.500" height=".9" fill="#555" stroke="none"/>
<text x="864.800" y="46.55" textLength="28.200" lengthAdjust="spacingAndGlyphs">115.000</text>
<rect x="860" y="11.30" width="2.500" height=".9" fill="#555" stroke="none"/>
<text x="864.800" y="14.45" textLength="28.200" lengthAdjust="spacingAndGlyphs">116.000</text>
</g>
<clipPath id="c102"><rect x="860" y="440" width="40" height="21.800"/></clipPath>
<g clip-path="url(#c102)"><rect x="860" y="460.70" width="2.500" height=".9" fill="#555"/><text x="864.800" y="463.85" font-family="Liberation Sans" font-size="8.2" fill="#505050" stroke="#505050" stroke-width=".12" textLength="28.200" lengthAdjust="spacingAndGlyphs">102.000</text></g>
<rect x="859.500" y="422.400" width="36.600" height="10.900" fill="#4a6fe3"/>
<text x="865" y="430.600" font-family="Liberation Sans" font-weight="bold" font-size="8.2" fill="#fff" textLength="28" lengthAdjust="spacingAndGlyphs">103.030</text>
<g font-family="Liberation Sans" font-size="7.8" fill="#555">
<rect x="529.25" y="463" width=".9" height="2.300" fill="#555"/>
<text x="529.7" y="473.200" text-anchor="middle">Oct</text>
<rect x="620.95" y="463" width=".9" height="2.300" fill="#555"/>
<text x="621.4" y="473.200" text-anchor="middle">Nov</text>
<rect x="717.45" y="463" width=".9" height="2.300" fill="#555"/>
<text x="717.9" y="473.200" text-anchor="middle">Dec</text>
<rect x="809.15" y="463" width=".9" height="2.300" fill="#555"/>
<text x="809.6" y="473.200" text-anchor="middle">2023</text>
</g>
<rect x="469.600" y="477.200" width="426.600" height="11.800" fill="#dfdfdf"/>
<g font-family="Liberation Sans" font-size="8.4" fill="#6c6c6c">
<text x="486.2" y="487" text-anchor="middle">10y</text>
<text x="516.2" y="487" text-anchor="middle">3y</text>
<text x="544.4" y="487" text-anchor="middle">1y</text>
<text x="573" y="487" text-anchor="middle">1m</text>
<text x="603" y="487" text-anchor="middle">7d</text>
<text x="631" y="487" text-anchor="middle">1d</text>
<text x="668.3" y="487" text-anchor="middle">Go to...</text>
<text x="735.300" y="487" text-anchor="middle">05:32:17 (UTC-5)</text>
<text x="789.300" y="487" text-anchor="middle">%</text>
<text x="816.900" y="487" text-anchor="middle">log</text>
<text x="849.200" y="487" text-anchor="middle" fill="#45a5de">auto</text>
<rect x="502.40" y="480.500" width=".8" height="8.500" fill="#bdbdbd"/>
<rect x="529.80" y="480.500" width=".8" height="8.500" fill="#bdbdbd"/>
<rect x="557.40" y="480.500" width=".8" height="8.500" fill="#bdbdbd"/>
<rect x="586.70" y="480.500" width=".8" height="8.500" fill="#bdbdbd"/>
<rect x="616.10" y="480.500" width=".8" height="8.500" fill="#bdbdbd"/>
<rect x="644.70" y="480.500" width=".8" height="8.500" fill="#bdbdbd"/>
<rect x="776.90" y="480.500" width=".8" height="8.500" fill="#bdbdbd"/>
<rect x="801.10" y="480.500" width=".8" height="8.500" fill="#bdbdbd"/>
<rect x="831.20" y="480.500" width=".8" height="8.500" fill="#bdbdbd"/>
<rect x="864.60" y="480.500" width=".8" height="8.500" fill="#bdbdbd"/>
</g>
<g transform="translate(881.700 484)"><circle r="2.900" fill="none" stroke="#5a5a5a" stroke-width=".9"/><circle r="1.100" fill="none" stroke="#5a5a5a" stroke-width=".7"/><circle r="3.900" fill="none" stroke="#5a5a5a" stroke-width="1.300" stroke-dasharray="1.200 1.860"/></g>
</g>
</g>
</svg>
</body></html>
